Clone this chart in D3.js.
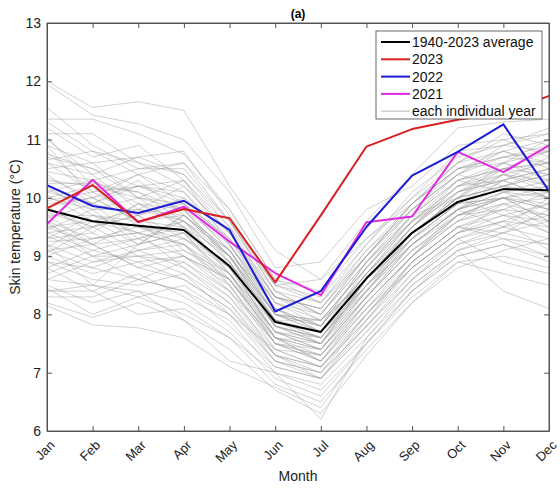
<!DOCTYPE html>
<html>
<head>
<meta charset="utf-8">
<script src="https://cdn.jsdelivr.net/npm/d3@7"></script>
<style>
  body { margin: 0; background: #fff; }
  svg { font-family: "Liberation Sans", Arial, sans-serif; }
</style>
</head>
<body>
<svg width="560" height="490"></svg>
<script>
// monthly skin temperature

var months = ["Jan","Feb","Mar","Apr","May","Jun","Jul","Aug","Sep","Oct","Nov","Dec"];
var yTicks = [6, 7, 8, 9, 10, 11, 12, 13];

var avg   = [9.80, 9.60, 9.52, 9.45, 8.83, 7.87, 7.70, 8.62, 9.40, 9.93, 10.15, 10.13];
var y2023 = [9.82, 10.22, 9.59, 9.81, 9.65, 8.55, 9.70, 10.88, 11.18, 11.34, 11.45, 11.75];
var y2022 = [10.22, 9.86, 9.74, 9.95, 9.45, 8.05, 8.40, 9.50, 10.38, 10.79, 11.26, 10.12];
var y2021 = [9.55, 10.31, 9.58, 9.85, 9.25, 8.71, 8.33, 9.58, 9.68, 10.79, 10.44, 10.90];

// the thin gray spaghetti, one row per year (approximate)
var years = [
  [12.0, 11.55, 11.65, 11.5, 10.2, 9.1, 8.6, 9.3, 9.9, 10.5, 10.7, 10.6],
  [11.95, 11.42, 11.27, 11.0, 10.1, 8.8, 8.9, 9.8, 10.2, 10.9, 11.0, 11.1],
  [11.35, 11.35, 11.1, 10.75, 9.8, 8.6, 8.2, 9.1, 9.8, 10.4, 10.9, 10.8],
  [11.55, 10.9, 10.5, 10.6, 9.6, 8.4, 8.0, 8.9, 9.7, 10.3, 10.5, 10.4],
  [11.2, 10.7, 10.9, 10.3, 9.5, 8.3, 8.1, 9.0, 9.9, 10.5, 10.8, 11.0],
  [11.1, 11.1, 10.6, 10.2, 9.4, 8.2, 7.9, 8.8, 9.6, 10.2, 10.4, 10.2],
  [11.0, 10.4, 10.7, 10.8, 9.7, 8.5, 8.3, 9.2, 10.0, 10.6, 11.1, 10.9],
  [10.7, 10.5, 10.2, 10.1, 9.3, 8.1, 7.8, 8.7, 9.5, 10.1, 10.3, 10.5],
  [10.6, 10.1, 10.4, 9.9, 9.1, 8.0, 7.9, 8.6, 9.4, 10.0, 10.2, 10.1],
  [10.5, 10.6, 10.0, 10.3, 9.2, 8.2, 8.0, 8.9, 9.7, 10.3, 10.6, 10.8],
  [10.3, 10.2, 10.1, 9.8, 9.0, 7.9, 7.6, 8.5, 9.3, 9.9, 10.0, 9.9],
  [10.2, 9.9, 10.2, 10.0, 9.2, 8.1, 7.7, 8.4, 9.3, 9.8, 10.1, 10.3],
  [10.1, 10.3, 9.9, 9.6, 8.9, 7.8, 7.5, 8.3, 9.1, 9.7, 10.0, 10.2],
  [10.0, 9.8, 9.8, 9.7, 9.1, 8.0, 7.8, 8.7, 9.5, 10.1, 10.4, 10.1],
  [9.9, 10.0, 9.6, 9.5, 8.8, 7.7, 7.4, 8.2, 9.0, 9.6, 9.8, 9.7],
  [9.8, 9.5, 9.7, 9.3, 8.7, 7.8, 7.6, 8.5, 9.4, 10.0, 10.2, 10.4],
  [9.7, 9.7, 9.4, 9.6, 9.0, 7.9, 7.7, 8.8, 9.6, 10.2, 10.3, 10.0],
  [9.6, 9.3, 9.5, 9.2, 8.6, 7.6, 7.3, 8.1, 8.9, 9.5, 9.7, 9.6],
  [9.5, 9.6, 9.2, 9.4, 8.8, 7.7, 7.5, 8.4, 9.2, 9.8, 10.0, 9.8],
  [9.4, 9.1, 9.3, 9.0, 8.5, 7.5, 7.2, 8.0, 8.8, 9.4, 9.6, 9.5],
  [9.3, 9.4, 9.0, 9.1, 8.6, 7.6, 7.4, 8.3, 9.1, 9.7, 9.9, 10.0],
  [9.2, 8.9, 9.1, 8.8, 8.3, 7.4, 7.1, 7.9, 8.7, 9.3, 9.5, 9.3],
  [9.1, 9.2, 8.8, 9.0, 8.4, 7.3, 7.0, 7.8, 8.6, 9.2, 9.4, 9.6],
  [9.0, 8.7, 8.9, 8.6, 8.1, 7.2, 6.9, 7.7, 8.5, 9.1, 9.3, 9.2],
  [8.9, 8.6, 8.5, 8.7, 8.2, 7.3, 7.1, 7.9, 8.8, 9.4, 9.7, 9.4],
  [8.8, 8.4, 8.7, 8.3, 7.9, 7.0, 6.8, 7.6, 8.4, 9.0, 9.2, 9.0],
  [8.6, 8.5, 8.3, 8.5, 8.0, 7.1, 6.9, 7.8, 8.6, 9.2, 9.5, 9.7],
  [8.5, 8.2, 8.4, 8.2, 7.7, 6.9, 6.6, 7.5, 8.3, 8.9, 9.0, 8.8],
  [8.4, 8.4, 8.0, 8.1, 7.6, 6.8, 6.5, 7.4, 8.2, 8.8, 9.1, 9.3],
  [8.2, 7.95, 8.2, 7.9, 7.4, 6.7, 6.3, 7.3, 8.2, 8.9, 8.7, 8.5],
  [8.15, 7.82, 7.77, 7.6, 7.1, 6.75, 6.4, 7.5, 8.4, 9.0, 9.2, 8.9],
  [8.4, 8.5, 8.4, 7.9, 7.2, 7.0, 6.2, 7.6, 8.5, 9.1, 8.4, 8.1],
  [10.4, 9.9, 10.3, 9.7, 9.0, 8.3, 7.9, 8.6, 9.3, 10.1, 10.5, 10.6],
  [9.95, 10.1, 9.7, 9.9, 9.3, 8.2, 7.8, 8.9, 9.8, 10.4, 10.2, 10.5],
  [10.2, 9.7, 9.6, 9.8, 8.9, 7.9, 7.9, 8.8, 9.7, 10.0, 10.6, 10.3],
  [9.85, 9.4, 9.9, 9.5, 9.0, 7.8, 7.5, 8.6, 9.5, 10.3, 10.1, 9.8],
  [9.65, 9.9, 9.3, 9.6, 8.7, 7.7, 7.6, 8.4, 9.4, 9.9, 10.4, 10.6],
  [10.6, 10.4, 9.8, 10.2, 9.4, 8.3, 8.1, 9.0, 9.8, 10.5, 10.7, 10.9],
  [9.3, 9.7, 9.5, 9.3, 8.9, 7.9, 7.6, 8.6, 9.3, 9.9, 10.0, 9.6],
  [9.2, 8.5, 9.2, 9.4, 8.5, 7.4, 7.3, 8.3, 9.1, 9.6, 10.1, 10.2],
  [10.9, 10.0, 10.4, 10.1, 9.2, 8.0, 7.7, 8.7, 9.6, 10.1, 10.3, 10.0],
  [9.55, 9.2, 9.6, 9.0, 8.6, 7.6, 7.2, 8.1, 9.0, 9.7, 9.8, 10.1],
  [10.75, 10.5, 10.0, 9.9, 9.1, 7.9, 7.5, 8.5, 9.2, 9.8, 10.2, 10.4],
  [8.7, 9.0, 8.6, 8.9, 8.4, 7.5, 7.3, 8.2, 9.0, 9.6, 9.9, 9.5],
  [9.0, 9.3, 9.4, 8.8, 8.2, 7.2, 7.0, 8.0, 8.9, 9.5, 9.4, 9.8],
  [10.25, 10.25, 10.1, 9.6, 8.9, 7.6, 7.5, 8.6, 9.5, 10.2, 10.5, 10.2],
  [9.45, 9.8, 9.2, 9.7, 9.0, 8.0, 7.8, 8.9, 9.6, 10.0, 9.7, 9.9],
  [10.05, 9.6, 9.4, 9.2, 8.5, 7.5, 7.4, 8.3, 9.2, 9.8, 10.3, 10.7],
  [8.3, 8.3, 8.6, 8.4, 7.8, 7.1, 6.9, 7.7, 8.6, 9.3, 9.6, 9.1],
  [9.75, 9.5, 9.9, 9.8, 9.2, 8.1, 7.7, 8.6, 9.5, 10.2, 10.6, 11.0],
  [11.3, 10.8, 10.6, 10.4, 9.5, 8.5, 8.2, 9.2, 10.1, 10.7, 10.9, 11.2],
  [10.45, 10.3, 10.5, 10.5, 9.6, 8.4, 8.0, 9.0, 9.9, 10.6, 11.0, 10.7],
  [8.9, 8.8, 9.1, 9.2, 8.7, 7.6, 7.2, 8.1, 8.8, 9.4, 9.6, 9.9],
  [9.6, 9.0, 9.0, 8.9, 8.3, 7.3, 6.9, 7.9, 8.9, 9.5, 9.8, 9.4],
  [10.0, 10.2, 9.5, 9.4, 8.6, 7.5, 7.3, 8.2, 9.0, 9.7, 10.0, 9.6],
  [9.35, 9.0, 9.2, 9.7, 9.0, 7.8, 7.6, 8.6, 9.4, 10.0, 10.4, 10.3],
  [10.15, 9.8, 10.0, 9.5, 8.8, 7.8, 7.6, 8.5, 9.4, 10.0, 10.2, 10.0],
  [9.05, 9.5, 9.7, 9.1, 8.7, 7.7, 7.4, 8.4, 9.3, 9.9, 10.3, 10.5],
  [8.6, 8.9, 9.0, 8.7, 8.0, 7.4, 7.1, 8.0, 8.9, 9.5, 9.3, 9.0],
  [10.65, 10.8, 10.4, 10.6, 9.8, 8.6, 8.4, 9.3, 10.0, 10.8, 10.9, 11.1],
  [9.15, 9.6, 9.8, 9.6, 9.1, 8.0, 7.7, 8.7, 9.6, 10.3, 10.5, 10.6],
  [11.05, 10.2, 10.0, 9.8, 9.0, 8.0, 7.9, 8.8, 9.7, 10.4, 10.8, 10.5],
  [9.5, 9.2, 8.8, 8.6, 8.1, 7.3, 7.1, 8.0, 8.8, 9.4, 9.9, 9.7],
  [9.85, 10.0, 10.2, 9.9, 9.3, 8.3, 8.0, 9.0, 9.9, 10.5, 10.6, 10.4],
  [8.45, 8.0, 8.3, 8.0, 7.6, 7.0, 6.7, 7.5, 8.4, 9.1, 9.4, 9.2],
  [9.25, 9.3, 9.4, 9.2, 8.4, 7.6, 7.4, 8.3, 9.2, 9.8, 9.5, 10.0],
  [10.35, 10.0, 9.6, 9.7, 9.1, 8.1, 7.8, 8.7, 9.4, 10.0, 10.5, 10.8],
  [9.1, 8.8, 8.6, 8.4, 8.0, 7.2, 7.0, 7.8, 8.7, 9.3, 8.9, 8.7],
  [9.7, 9.2, 9.3, 9.5, 8.7, 7.5, 7.2, 8.2, 9.0, 9.8, 10.1, 10.0],
  [10.8, 10.1, 10.2, 10.3, 9.4, 8.3, 8.1, 9.1, 9.9, 10.6, 10.8, 10.6],
  [10.9, 10.6, 10.7, 10.4, 9.6, 8.5, 8.6, 9.6, 10.4, 11.2, 11.3, 11.35],
  [9.4, 9.5, 9.1, 9.3, 8.8, 7.9, 7.7, 8.5, 9.2, 9.7, 10.0, 9.8],
  [10.1, 9.9, 9.7, 10.0, 9.4, 8.4, 8.2, 9.0, 9.8, 10.4, 10.7, 10.8],
  [8.8, 9.1, 8.9, 9.0, 8.6, 7.7, 7.5, 8.4, 9.2, 9.8, 10.0, 10.1]
];

var legendItems = [
  { label: "1940-2023 average", color: "#000000", width: 2 },
  { label: "2023", color: "#d82020", width: 2 },
  { label: "2022", color: "#1c1cd6", width: 2 },
  { label: "2021", color: "#e22ae2", width: 2 },
  { label: "each individual year", color: "#a8a8a8", width: 0.8 }
];

var svg = d3.select("svg"),
    margin = {top: 23, right: 11, bottom: 59, left: 47},
    width = +svg.attr("width") - margin.left - margin.right,
    height = +svg.attr("height") - margin.top - margin.bottom;

var x = d3.scaleLinear().domain([0, 11]).range([0, width]);
var y = d3.scaleLinear().domain([6, 13]).range([height, 0]);

var g = svg.append("g")
    .attr("transform", "translate(" + margin.left + "," + margin.top + ")");

var line = d3.line()
    .x(function(d, i) { return x(i); })
    .y(function(d) { return y(d); });

// gray years
g.append("g")
    .selectAll("path")
    .data(years)
    .enter().append("path")
    .attr("d", line)
    .attr("fill", "none")
    .attr("stroke", "#9a9a9a")
    .attr("stroke-opacity", 0.75)
    .attr("stroke-width", 0.6);

var main = [
  { vals: avg, color: legendItems[0].color },
  { vals: y2021, color: legendItems[3].color },
  { vals: y2022, color: legendItems[2].color },
  { vals: y2023, color: legendItems[1].color }
];
g.append("g")
    .selectAll("path")
    .data(main)
    .enter().append("path")
    .attr("d", function(d) { return line(d.vals); })
    .attr("fill", "none")
    .attr("stroke", function(d) { return d.color; })
    .attr("stroke-width", 2)
    .attr("stroke-linejoin", "round");

// axes, ticks pointing inward (matlab style)
var axisColor = "#555";
var xAxis = d3.axisBottom(x).tickValues(d3.range(12))
    .tickFormat(function(i) { return months[i]; })
    .tickSize(-5).tickSizeOuter(0);
var gx = g.append("g").attr("transform", "translate(0," + height + ")").call(xAxis);
gx.selectAll("text")
    .attr("x", 0).attr("y", 0).attr("dy", null)
    .attr("text-anchor", "end")
    .attr("transform", "translate(8,15) rotate(-45)")
    .attr("font-size", 13)
    .attr("fill", "#222");

g.append("g").call(d3.axisTop(x).tickValues(d3.range(12)).tickFormat("").tickSize(-5).tickSizeOuter(0));

var gy = g.append("g").call(d3.axisLeft(y).tickValues(yTicks).tickFormat(d3.format("d"))
    .tickSize(-5).tickSizeOuter(0).tickPadding(6));
gy.selectAll("text").attr("font-size", 14).attr("fill", "#222");

g.append("g").attr("transform", "translate(" + width + ",0)")
    .call(d3.axisRight(y).tickValues(yTicks).tickFormat("").tickSize(-5).tickSizeOuter(0));

g.selectAll(".domain, .tick line").attr("stroke", axisColor);

g.append("rect")
    .attr("width", width).attr("height", height)
    .attr("fill", "none").attr("stroke", axisColor).attr("stroke-width", 1);

// legend
var leg = g.append("g").attr("transform", "translate(" + (width - 173) + ",8)");
leg.append("rect")
    .attr("width", 166).attr("height", 88)
    .attr("fill", "#fff").attr("stroke", "#444").attr("stroke-width", 0.8);
var row = leg.selectAll(".row")
    .data(legendItems)
    .enter().append("g")
    .attr("class", "row")
    .attr("transform", function(d, i) { return "translate(0," + (11 + i * 17.3) + ")"; });
row.append("line")
    .attr("x1", 5).attr("x2", 34)
    .attr("stroke", function(d) { return d.color; })
    .attr("stroke-width", function(d) { return d.width; });
row.append("text")
    .attr("x", 36).attr("dy", "0.36em")
    .attr("font-size", 14).attr("fill", "#111")
    .text(function(d) { return d.label; });

// labels
svg.append("text")
    .attr("x", margin.left + width / 2).attr("y", 18)
    .attr("text-anchor", "middle")
    .attr("font-size", 12).attr("font-weight", "bold")
    .text("(a)");

svg.append("text")
    .attr("x", margin.left + width / 2).attr("y", 481)
    .attr("text-anchor", "middle")
    .attr("font-size", 14).attr("fill", "#222")
    .text("Month");

svg.append("text")
    .attr("transform", "translate(20," + (margin.top + height / 2) + ") rotate(-90)")
    .attr("text-anchor", "middle")
    .attr("font-size", 14).attr("fill", "#222")
    .text("Skin temperature (°C)");
</script>
</body>
</html>
